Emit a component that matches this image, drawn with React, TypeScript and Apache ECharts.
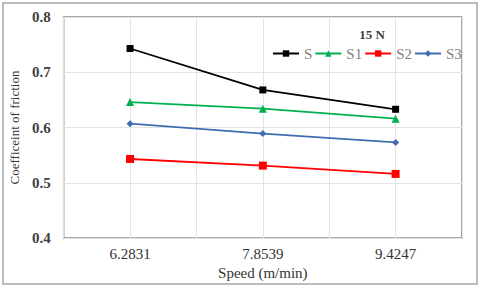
import React, { useEffect, useRef } from "react";
import * as echarts from "echarts";

const speeds = ["6.2831", "7.8539", "9.4247"];
const seriesNames = ["S", "S1", "S2", "S3"];
const sValues = [0.743, 0.668, 0.633];
const s1Values = [0.646, 0.634, 0.616];
const s2Values = [0.543, 0.531, 0.516];
const s3Values = [0.607, 0.589, 0.573];
const colors = ["#000000", "#00b050", "#ff0000", "#3f6db0"];
const symbols = ["rect", "triangle", "rect", "diamond"];
const symbolSizes = [7, 8, 8, 7];

const FONT = "Liberation Serif";

export default function App() {
  const ref = useRef<HTMLDivElement>(null);
  useEffect(() => {
    if (!ref.current) return;
    const chart = echarts.init(ref.current, null, { renderer: "svg" });
    const all = [sValues, s1Values, s2Values, s3Values];
    const series = all.map((vals, k) => ({
      name: seriesNames[k],
      type: "line",
      data: vals.map((v, i) => [2 * i + 1, v]),
      symbol: symbols[k],
      symbolSize: symbolSizes[k],
      lineStyle: { color: colors[k], width: 1.8 },
      itemStyle: { color: colors[k] },
      emphasis: { disabled: true },
    }));
    chart.setOption({
      animation: false,
      backgroundColor: "#ffffff",
      grid: {
        left: 62,
        top: 17,
        right: 18,
        bottom: 50,
        show: true,
        borderColor: "#8c8c8c",
        borderWidth: 1.5,
      },
      title: {
        text: "15 N",
        left: 367,
        top: 23,
        textAlign: "center",
        textStyle: { fontFamily: FONT, fontSize: 13, fontWeight: "bold", color: "#404040" },
      },
      legend: {
        left: 267,
        top: 41,
        width: 220,
        itemWidth: 26,
        itemHeight: 8,
        itemGap: 2,
        textStyle: { fontFamily: FONT, fontSize: 15, color: "#7f7f7f" },
        data: seriesNames,
      },
      xAxis: {
        type: "value",
        min: 0,
        max: 6,
        interval: 1,
        axisLine: { show: false },
        axisTick: { show: false },
        splitLine: { show: true, lineStyle: { color: "#e3e3e3", width: 1 } },
        axisLabel: {
          margin: 8,
          fontFamily: FONT,
          fontSize: 15,
          color: "#333333",
          formatter: (v: number) => (v % 2 === 1 ? speeds[(v - 1) / 2] : ""),
        },
        name: "Speed (m/min)",
        nameLocation: "middle",
        nameGap: 19,
        nameTextStyle: { fontFamily: FONT, fontSize: 15, color: "#333333" },
      },
      yAxis: {
        type: "value",
        min: 0.4,
        max: 0.8,
        interval: 0.1,
        axisLine: { show: false },
        axisTick: { show: false },
        splitLine: { show: true, lineStyle: { color: "#e3e3e3", width: 1 } },
        axisLabel: {
          margin: 13,
          fontFamily: FONT,
          fontSize: 15,
          fontWeight: "bold",
          color: "#404040",
          formatter: (v: number) => v.toFixed(1),
        },
        name: "Coefficeint of friction",
        nameLocation: "middle",
        nameGap: 41,
        nameTextStyle: { fontFamily: FONT, fontSize: 13, color: "#333333" },
      },
      graphic: [
        {
          type: "rect",
          shape: { x: 3, y: 3, width: 474, height: 281 },
          style: { fill: "none", stroke: "#a6a6a6", lineWidth: 1.5 },
          silent: true,
        },
      ],
      series,
    });
    return () => chart.dispose();
  }, []);
  return (
    <div
      ref={ref}
      style={{ position: "fixed", left: 0, top: 0, width: 480, height: 288 }}
    />
  );
}
